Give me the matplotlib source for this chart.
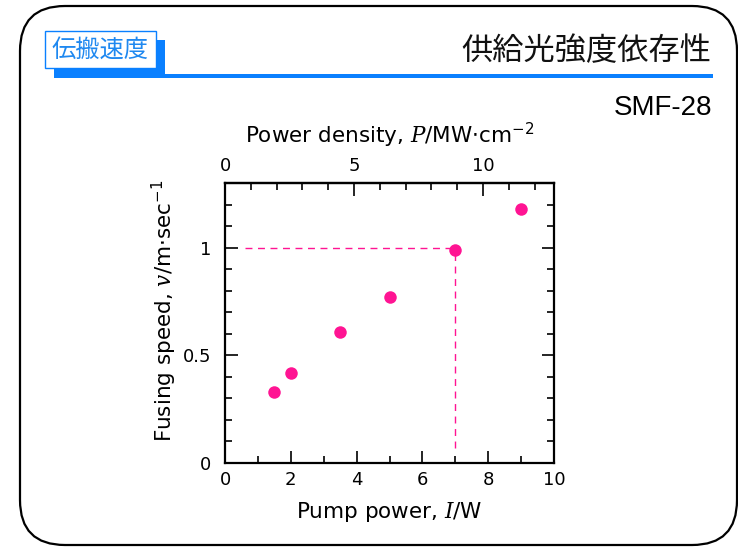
import numpy as np
import matplotlib.pyplot as plt
from matplotlib.patches import FancyBboxPatch, Rectangle
from matplotlib.ticker import MultipleLocator

# pump power (W) and fusing speed (m/s)
pump_power = [1.5, 2.0, 3.5, 5.0, 7.0, 9.0]
fusing_speed = [0.33, 0.42, 0.61, 0.77, 0.99, 1.18]

# power density per watt of pump power (MW/cm^2 per W)
density_per_watt = 1.275

# reference point marked with dashed guides
ref_power = 7.0
ref_speed = 1.0

pink = '#ff1493'
blue = '#0a80ff'

# italic serif for the variable symbols, sans for the rest
plt.rcParams['mathtext.fontset'] = 'custom'
plt.rcParams['mathtext.it'] = 'DejaVu Serif:italic'
plt.rcParams['mathtext.rm'] = 'DejaVu Sans'

fig = plt.figure(figsize=(7.38, 5.48), dpi=100)

# slide frame and header, drawn in pixel coordinates
bg = fig.add_axes([0, 0, 1, 1])
bg.set_xlim(0, 738)
bg.set_ylim(548, 0)
bg.axis('off')

frame = FancyBboxPatch((20, 6), 717, 539, boxstyle="round,pad=0,rounding_size=45",
                       fill=False, edgecolor='black', linewidth=1.6)
bg.add_patch(frame)
bg.add_patch(Rectangle((54, 40), 111, 37, color=blue, linewidth=0))
bg.add_patch(Rectangle((54, 74), 659, 3.5, color=blue, linewidth=0))
bg.add_patch(Rectangle((45, 31), 111, 37, facecolor='white', edgecolor=blue, linewidth=1))
bg.text(100, 50, '伝搬速度', color='#1e88f0', fontsize=17.5, ha='center', va='center',
        family=['Noto Sans CJK JP', 'DejaVu Sans'])
bg.text(711, 51, '供給光強度依存性', color='#111111', fontsize=22.5, ha='right', va='center',
        family=['Noto Sans CJK JP', 'DejaVu Sans'])
bg.text(712, 108, 'SMF-28', fontsize=20, ha='right', va='center', family='Liberation Sans')

# main plot
ax = fig.add_axes([0.3049, 0.1551, 0.4458, 0.5109])
ax.plot([0.6, ref_power], [ref_speed, ref_speed], color=pink, linestyle=(0, (5, 4)), linewidth=1)
ax.plot([ref_power, ref_power], [0.07, ref_speed], color=pink, linestyle=(0, (5, 4)), linewidth=1)
ax.plot(pump_power, fusing_speed, 'o', color=pink, markersize=9, markeredgewidth=0, zorder=3)

ax.set_xlim(0, 10)
ax.set_ylim(0, 1.3)
ax.xaxis.set_minor_locator(MultipleLocator(1))
ax.yaxis.set_minor_locator(MultipleLocator(0.1))
ax.set_xticks([0, 2, 4, 6, 8, 10], ['0', '2', '4', '6', '8', '10'])
ax.set_yticks([0, 0.5, 1], ['0', '0.5', '1'])

ax.tick_params(which='both', direction='in', right=True, top=False, width=1.2, labelsize=13)
ax.tick_params(which='major', length=9)
ax.tick_params(axis='x', which='major', pad=6)
ax.tick_params(axis='y', which='major', pad=10)
ax.tick_params(which='minor', length=5)
for s in ax.spines.values():
    s.set_linewidth(1.6)

ax.set_xlabel('Pump power, $I$/W', fontsize=15.5, labelpad=8)
ax.set_ylabel(r'Fusing speed, $v$/m$\cdot$sec$^{-1}$', fontsize=15.5)
ax.yaxis.set_label_coords(-0.139, 0.545)

# power density on the top axis
top = ax.secondary_xaxis('top', functions=(lambda x: x * density_per_watt,
                                            lambda p: p / density_per_watt))
top.xaxis.set_major_locator(MultipleLocator(5))
top.xaxis.set_minor_locator(MultipleLocator(1))
top.tick_params(which='both', direction='in', width=1.2, labelsize=13)
top.tick_params(which='major', length=9, pad=6)
top.tick_params(which='minor', length=5)
top.spines['top'].set_linewidth(1.6)
top.set_xlabel(r'Power density, $P$/MW$\cdot$cm$^{-2}$', fontsize=15.5, labelpad=10)

fig.savefig('out.png', dpi=100)
